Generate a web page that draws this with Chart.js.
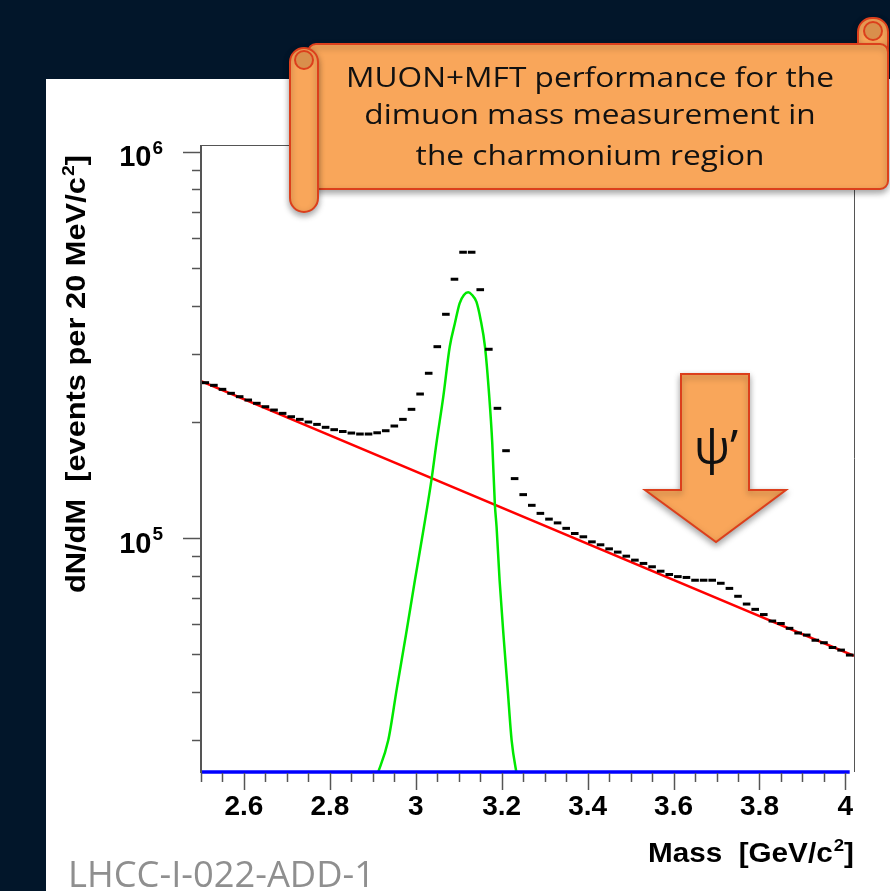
<!DOCTYPE html>
<html>
<head>
<meta charset="utf-8">
<script src="https://cdn.jsdelivr.net/npm/chart.js@4.4.1/dist/chart.umd.min.js"></script>
<style>
    html, body { margin: 0; padding: 0; background: #02162a; }
    #wrap { width: 890px; height: 891px; }
</style>
</head>
<body>
<div id="wrap"><canvas id="massChart" width="890" height="891"></canvas></div>
<script>
// dimuon mass spectrum, 20 MeV bins
const binCenters = [
    2.51, 2.53, 2.55, 2.57, 2.59, 2.61, 2.63, 2.65, 2.67, 2.69,
    2.71, 2.73, 2.75, 2.77, 2.79, 2.81, 2.83, 2.85, 2.87, 2.89,
    2.91, 2.93, 2.95, 2.97, 2.99, 3.01, 3.03, 3.05, 3.07, 3.09,
    3.11, 3.13, 3.15, 3.17, 3.19, 3.21, 3.23, 3.25, 3.27, 3.29,
    3.31, 3.33, 3.35, 3.37, 3.39, 3.41, 3.43, 3.45, 3.47, 3.49,
    3.51, 3.53, 3.55, 3.57, 3.59, 3.61, 3.63, 3.65, 3.67, 3.69,
    3.71, 3.73, 3.75, 3.77, 3.79, 3.81, 3.83, 3.85, 3.87, 3.89,
    3.91, 3.93, 3.95, 3.97, 3.99, 4.01
];
const eventsPerBin = [
    252600, 248700, 242800, 237100, 232400, 227800, 223400, 218900, 214600, 210400,
    206200, 203000, 199800, 197000, 193600, 190900, 188800, 187100, 186000, 186000,
    187400, 189700, 195100, 203000, 215500, 236100, 267200, 313100, 379800, 468100,
    549800, 549800, 439800, 308300, 216800, 168400, 142600, 129600, 121600, 115900,
    112000, 109500, 106000, 102800, 100800, 97800, 96100, 93800, 92000, 89800,
    87700, 86000, 84300, 82100, 80500, 79500, 79100, 77800, 77800, 77800,
    76400, 74100, 70700, 67500, 65400, 63400, 61000, 60100, 58400, 56800,
    56100, 54400, 53600, 52100, 51300, 49800
];

// exponential background fit (straight on log axis)
const bkgMass = [2.5, 4.02];
const bkgFit = [255100, 49600];

// J/psi signal fit
const jpsiMass = [
    2.908, 2.936, 2.956, 2.977, 2.998, 3.019, 3.037, 3.048, 3.064, 3.079,
    3.091, 3.102, 3.112, 3.122, 3.131, 3.141, 3.151, 3.161, 3.171, 3.178,
    3.184, 3.188, 3.195, 3.205, 3.214, 3.223, 3.236
];
const jpsiFit = [
    24000, 30000, 40900, 56100, 77900, 107000, 142800, 175900, 232400, 313100,
    360000, 405500, 426100, 433000, 426100, 409400, 367200, 313100, 232400, 175900,
    122500, 107000, 77900, 54400, 40400, 30000, 24000
];

// third fit component, sits on the axis floor
const baseMass = [2.5, 4.01];
const baseFit = [24800, 24800];

const xMajorTicks = [2.6, 2.8, 3.0, 3.2, 3.4, 3.6, 3.8, 4.0];
const xTickLabels = ['2.6', '2.8', '3', '3.2', '3.4', '3.6', '3.8', '4'];
const xMinorTicks = [
    2.5, 2.55, 2.65, 2.7, 2.75, 2.85, 2.9, 2.95, 3.05, 3.1, 3.15, 3.25,
    3.3, 3.35, 3.45, 3.5, 3.55, 3.65, 3.7, 3.75, 3.85, 3.9, 3.95
];
const yMajorTicks = [1e5, 1e6];
const yTickExponents = ['5', '6'];
const yMinorTicks = [3e4, 4e4, 5e4, 6e4, 7e4, 8e4, 9e4, 2e5, 3e5, 4e5, 5e5, 6e5, 7e5, 8e5, 9e5];

(function () {
    const ROOT_FONT = '"Liberation Sans", Arial, sans-serif';
    const SLIDE_FONT = '"Open Sans", "Noto Sans", sans-serif';
    const ORANGE = '#f9a65a';
    const EDGE = '#dc3f1c';

    function toPoints(xs, ys) {
        return xs.map((x, i) => ({ x: x, y: ys[i] }));
    }

    function supLabel(ctx, base, sup, tail, x, y, align, size, width) {
        const big = 'bold ' + size + 'px ' + ROOT_FONT;
        const small = 'bold ' + Math.round(size * 0.64) + 'px ' + ROOT_FONT;
        ctx.font = big;
        const wb = ctx.measureText(base).width;
        const wt = tail ? ctx.measureText(tail).width : 0;
        ctx.font = small;
        const ws = ctx.measureText(sup).width;
        const total = wb + 1 + ws + wt;
        const sx = width ? width / total : 1;
        let start = 0;
        if (align === 'right') start = -total * sx;
        if (align === 'center') start = -total * sx / 2;

        ctx.save();
        ctx.translate(x + start, y);
        ctx.scale(sx, 1);
        ctx.textAlign = 'left';
        ctx.textBaseline = 'alphabetic';
        ctx.font = big;
        ctx.fillText(base, 0, 0);
        ctx.font = small;
        ctx.fillText(sup, wb + 1, -size * 0.42);
        if (tail) {
            ctx.font = big;
            ctx.fillText(tail, wb + 1 + ws, 0);
        }
        ctx.restore();
    }

    function line(ctx, x1, y1, x2, y2) {
        ctx.beginPath();
        ctx.moveTo(x1, y1);
        ctx.lineTo(x2, y2);
        ctx.stroke();
    }

    const slideBackground = {
        id: 'slideBackground',
        beforeDraw(chart) {
            const ctx = chart.ctx;
            ctx.save();
            ctx.fillStyle = '#02162a';
            ctx.fillRect(0, 0, chart.width, chart.height);
            ctx.fillStyle = '#ffffff';
            ctx.fillRect(46, 79, chart.width - 46, chart.height - 79);
            ctx.restore();
        }
    };

    const rootFrame = {
        id: 'rootFrame',
        afterDatasetsDraw(chart) {
            const { ctx, chartArea: a } = chart;
            const xs = chart.scales.x;
            const ys = chart.scales.y;
            ctx.save();
            ctx.strokeStyle = '#555555';
            ctx.lineWidth = 1;
            line(ctx, a.left, a.top + 0.5, a.right, a.top + 0.5);
            line(ctx, a.right + 0.5, a.top, a.right + 0.5, a.bottom);
            ctx.lineWidth = 2;
            line(ctx, a.left, a.top, a.left, a.bottom + 1);

            ctx.lineWidth = 1.5;
            yMinorTicks.forEach((v) => {
                const py = Math.round(ys.getPixelForValue(v)) + 0.5;
                line(ctx, a.left - 9, py, a.left, py);
            });
            yMajorTicks.forEach((v) => {
                const py = Math.round(ys.getPixelForValue(v)) + 0.5;
                line(ctx, a.left - 18, py, a.left, py);
            });
            xMinorTicks.forEach((v) => {
                const px = Math.round(xs.getPixelForValue(v)) + 0.5;
                line(ctx, px, a.bottom + 1, px, a.bottom + 10);
            });
            xMajorTicks.forEach((v) => {
                const px = Math.round(xs.getPixelForValue(v)) + 0.5;
                line(ctx, px, a.bottom + 1, px, a.bottom + 18);
            });

            ctx.fillStyle = '#000000';
            ctx.font = 'bold 28px ' + ROOT_FONT;
            ctx.textAlign = 'center';
            ctx.textBaseline = 'alphabetic';
            xMajorTicks.forEach((v, i) => {
                ctx.fillText(xTickLabels[i], xs.getPixelForValue(v), a.bottom + 43);
            });
            yMajorTicks.forEach((v, i) => {
                supLabel(ctx, '10', yTickExponents[i], '', a.left - 38, ys.getPixelForValue(v) + 14.5, 'right', 29);
            });

            supLabel(ctx, 'Mass  [GeV/c', '2', ']', a.right, a.bottom + 90, 'right', 27, 206);

            ctx.save();
            ctx.translate(85, 155);
            ctx.rotate(-Math.PI / 2);
            supLabel(ctx, 'dN/dM  [events per 20 MeV/c', '2', ']', 0, 0, 'right', 27, 438);
            ctx.restore();
            ctx.restore();
        }
    };

    const slideDecor = {
        id: 'slideDecor',
        afterDraw(chart) {
            const ctx = chart.ctx;
            ctx.save();
            ctx.lineWidth = 2;
            ctx.strokeStyle = EDGE;

            // scroll banner
            ctx.shadowColor = 'rgba(0, 0, 0, 0.35)';
            ctx.shadowBlur = 6;
            ctx.shadowOffsetY = 3;
            ctx.fillStyle = ORANGE;
            ctx.beginPath();
            ctx.roundRect(858, 18, 30, 44, 14);
            ctx.fill();
            ctx.stroke();
            ctx.beginPath();
            ctx.roundRect(308, 44, 580, 145, 8);
            ctx.fill();
            ctx.stroke();
            ctx.beginPath();
            ctx.roundRect(290, 48, 28, 164, 14);
            ctx.fill();
            ctx.stroke();
            ctx.shadowColor = 'transparent';
            ctx.fillStyle = '#d98f4c';
            ctx.beginPath();
            ctx.arc(304, 60, 9, 0, Math.PI * 2);
            ctx.fill();
            ctx.stroke();
            ctx.beginPath();
            ctx.arc(873, 31, 9, 0, Math.PI * 2);
            ctx.fill();
            ctx.stroke();

            ctx.fillStyle = '#111111';
            ctx.font = '27px ' + SLIDE_FONT;
            ctx.textBaseline = 'alphabetic';
            ctx.textAlign = 'center';
            const bannerLines = ['MUON+MFT performance for the', 'dimuon mass measurement in', 'the charmonium region'];
            const stretch = 488 / ctx.measureText(bannerLines[0]).width;
            [87, 124, 165].forEach((by, i) => {
                ctx.save();
                ctx.translate(590, by);
                ctx.scale(stretch, 1);
                ctx.fillText(bannerLines[i], 0, 0);
                ctx.restore();
            });

            // psi' arrow
            ctx.shadowColor = 'rgba(0, 0, 0, 0.35)';
            ctx.shadowBlur = 6;
            ctx.shadowOffsetY = 3;
            ctx.fillStyle = ORANGE;
            ctx.beginPath();
            ctx.moveTo(681, 374);
            ctx.lineTo(749, 374);
            ctx.lineTo(749, 490);
            ctx.lineTo(786, 490);
            ctx.lineTo(716, 542);
            ctx.lineTo(645, 490);
            ctx.lineTo(681, 490);
            ctx.closePath();
            ctx.fill();
            ctx.stroke();
            ctx.shadowColor = 'transparent';
            ctx.fillStyle = '#111111';
            ctx.font = '48px ' + SLIDE_FONT;
            ctx.fillText('\u03c8\u2019', 716, 464);

            // document reference
            ctx.fillStyle = '#8f8f8f';
            ctx.font = '37px ' + SLIDE_FONT;
            ctx.textAlign = 'left';
            ctx.fillText('LHCC-I-022-ADD-1', 68, 887, 307);
            ctx.restore();
        }
    };

    function init() {
        const canvas = document.getElementById('massChart');
        new Chart(canvas, {
            type: 'line',
            data: {
                datasets: [
                    {
                        label: 'Data',
                        data: toPoints(binCenters, eventsPerBin),
                        showLine: false,
                        pointStyle: 'line',
                        pointRadius: 3.8,
                        pointBorderWidth: 3,
                        pointBorderColor: '#000000',
                        pointBackgroundColor: '#000000'
                    },
                    {
                        label: 'Base',
                        data: toPoints(baseMass, baseFit),
                        borderColor: '#0000ff',
                        borderWidth: 3.5,
                        pointRadius: 0,
                        clip: false
                    },
                    {
                        label: 'J/psi',
                        data: toPoints(jpsiMass, jpsiFit),
                        borderColor: '#00e800',
                        borderWidth: 2.5,
                        pointRadius: 0,
                        cubicInterpolationMode: 'monotone'
                    },
                    {
                        label: 'Background',
                        data: toPoints(bkgMass, bkgFit),
                        borderColor: '#ff0000',
                        borderWidth: 2.5,
                        pointRadius: 0
                    }
                ]
            },
            options: {
                responsive: false,
                animation: false,
                events: [],
                layout: {
                    padding: { left: 201, right: 36, top: 145, bottom: 119 }
                },
                plugins: {
                    legend: { display: false },
                    tooltip: { enabled: false }
                },
                scales: {
                    x: { type: 'linear', min: 2.5, max: 4.02, display: false },
                    y: { type: 'logarithmic', min: 24800, max: 1042000, display: false }
                }
            },
            plugins: [slideBackground, rootFrame, slideDecor]
        });
    }

    init();
})();
</script>
</body>
</html>
